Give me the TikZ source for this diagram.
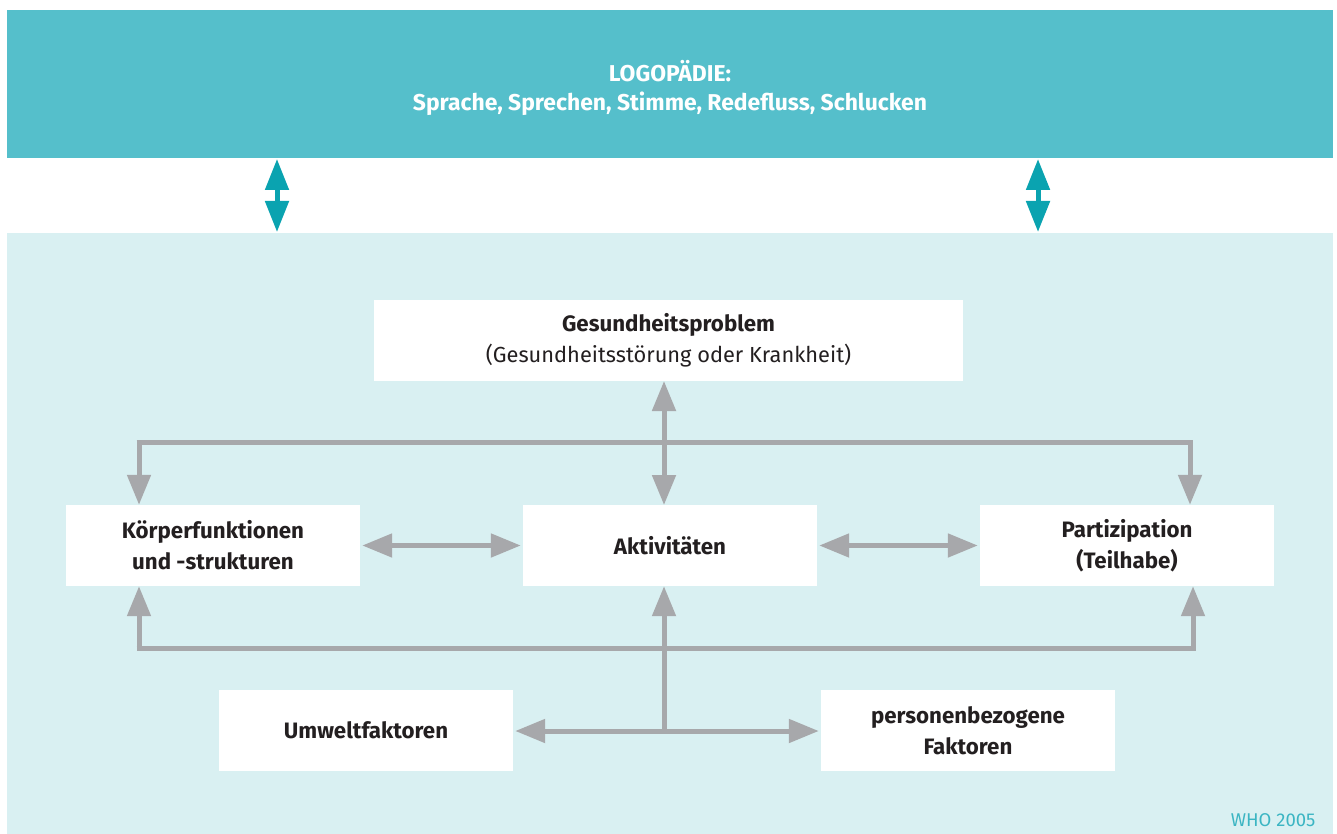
\documentclass[tikz,border=0pt]{standalone}
\usepackage{fontspec}
\setmainfont{Fira Sans}
\usetikzlibrary{arrows.meta}
\definecolor{banner}{HTML}{55BFCB}
\definecolor{lightbg}{HTML}{D9F0F2}
\definecolor{tealarrow}{HTML}{0AA3B0}
\definecolor{grayarrow}{HTML}{A7A8AB}
\definecolor{txt}{HTML}{231F20}
\definecolor{whotxt}{HTML}{3BB5C3}
\tikzset{
  box/.style={fill=white, draw=none, minimum width=294pt, minimum height=81pt, inner sep=0pt, align=center, text=txt, font=\fontsize{22.3}{31}\selectfont\bfseries},
  garrow/.style={draw=grayarrow, line width=5pt, {Triangle[length=30pt,width=23pt]}-{Triangle[length=30pt,width=23pt]}},
  gtip/.style={draw=grayarrow, line width=5pt, -{Triangle[length=30pt,width=23pt]}},
  gline/.style={draw=grayarrow, line width=5pt},
  tarrow/.style={draw=tealarrow, line width=5pt, {Triangle[length=31pt,width=23pt]}-{Triangle[length=31pt,width=23pt]}},
}
\begin{document}
\begin{tikzpicture}[x=1pt,y=-1pt]
\useasboundingbox[fill=white] (0,0) rectangle (1337,834);
\fill[banner] (7,10) rectangle (1333,158);
\fill[lightbg] (7,233) rectangle (1333,834);
\node[text=white, align=center, font=\fontsize{22.9}{29}\selectfont\bfseries] (title) at (670,88) {LOGOPÄDIE:\\Sprache, Sprechen, Stimme, Redefluss, Schlucken};
\coordinate (ta1) at (277,159);
\coordinate (tb1) at (277,232);
\coordinate (ta2) at (1038,159);
\coordinate (tb2) at (1038,232);
\draw[tarrow] (ta1) -- (tb1);
\draw[tarrow] (ta2) -- (tb2);

\node[box, minimum width=589pt] (gp) at (668.5,340.5) {\raisebox{0pt}[0pt][0pt]{}Gesundheitsproblem\\\fontsize{21.8}{31}\selectfont\mdseries(Gesundheitsstörung oder Krankheit)};
\node[box] (kf) at (213,545.5) {Körperfunktionen\\und -strukturen};
\node[box] (ak) at (670,545.5) {Aktivitäten};
\node[box] (pa) at (1127,545.5) {Partizipation\\(Teilhabe)};
\node[box] (uw) at (366,730.5) {Umweltfaktoren};
\node[box] (pb) at (968,730.5) {personenbezogene\\Faktoren};

\coordinate (tl) at (139,442);
\coordinate (tr) at (1190,442);
\coordinate (bl) at (139,648);
\coordinate (br) at (1193,648);
\coordinate (bm) at (664,648);
\coordinate (um) at (664,731);

\draw[garrow] (664,381) -- (664,505);
\draw[gline] ([xshift=-2.5pt]tl) -- ([xshift=2.5pt]tr);
\draw[gtip] ([yshift=-2.5pt]tl) -- (tl |- kf.north);
\draw[gtip] ([yshift=-2.5pt]tr) -- (tr |- pa.north);
\draw[garrow] ([xshift=2pt]kf.east) -- ([xshift=-2pt]ak.west);
\draw[garrow] ([xshift=2pt]ak.east) -- ([xshift=-2pt]pa.west);
\draw[gline] ([xshift=-2.5pt]bl) -- ([xshift=2.5pt]br);
\draw[gtip] ([yshift=2.5pt]bl) -- (bl |- kf.south);
\draw[gtip] ([yshift=2.5pt]br) -- (br |- pa.south);
\draw[gtip] ([yshift=2.5pt]um) -- (um |- ak.south);
\draw[garrow] ([xshift=2pt]uw.east |- um) -- ([xshift=-2pt]pb.west |- um);

\node[text=whotxt, anchor=east, font=\fontsize{18.5}{20}\selectfont] (who) at (1319,820) {WHO 2005};
\end{tikzpicture}
\end{document}
